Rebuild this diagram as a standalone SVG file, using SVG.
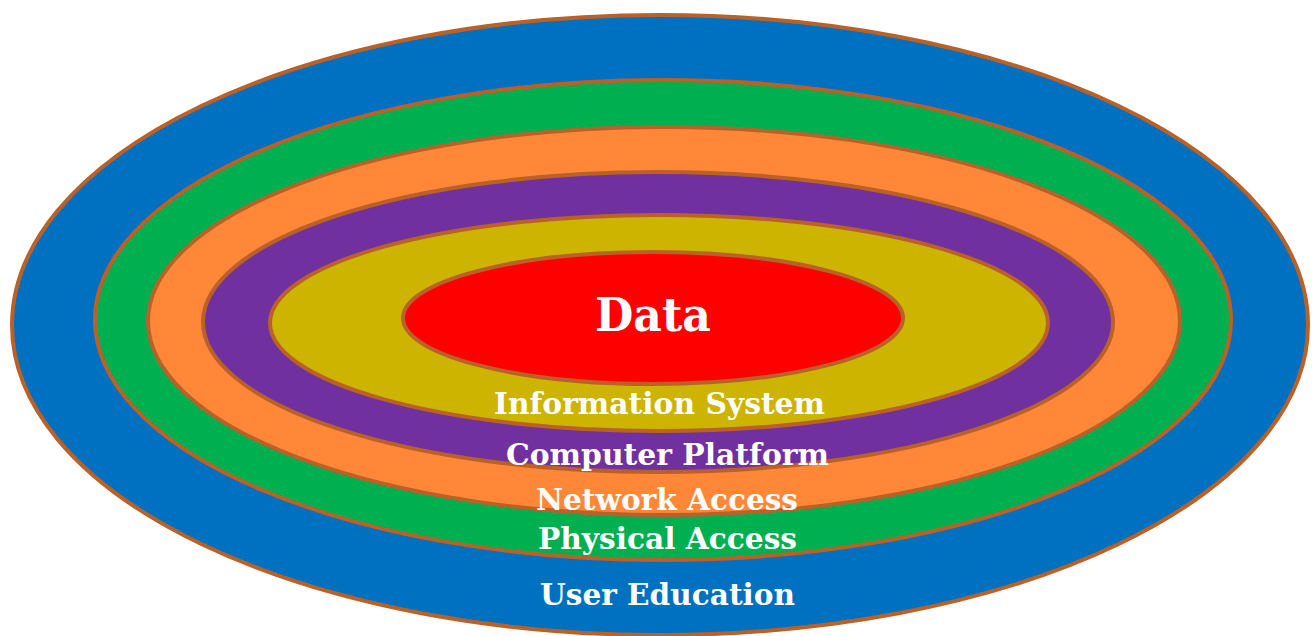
<svg xmlns="http://www.w3.org/2000/svg" width="1315" height="636" viewBox="0 0 1315 636">
<style>
.ring{stroke:#BA6128;stroke-width:4}
.lbl{font-family:"DejaVu Serif","Liberation Serif",serif;font-weight:bold;fill:#FFFFFF;text-anchor:middle}
</style>
<rect width="1315" height="636" fill="#FFFFFF"/>
<g id="user-education">
<ellipse class="ring" cx="660" cy="325" rx="648" ry="310" fill="#0070C0"/>
</g>
<g id="physical-access">
<ellipse class="ring" cx="663" cy="320" rx="568" ry="240" fill="#00B050"/>
</g>
<g id="network-access">
<ellipse class="ring" cx="664" cy="321" rx="516" ry="194" fill="#FF8737"/>
</g>
<g id="computer-platform">
<ellipse class="ring" cx="658" cy="322" rx="455" ry="150" fill="#7030A0"/>
</g>
<g id="information-system">
<ellipse class="ring" cx="659" cy="323" rx="389" ry="108" fill="#CCB400"/>
</g>
<g id="data">
<ellipse class="ring" cx="653" cy="318" rx="250" ry="66" fill="#FF0000"/>
<text class="lbl" x="653" y="331" font-size="46" textLength="116" lengthAdjust="spacingAndGlyphs">Data</text>
</g>
<g id="labels">
<text class="lbl" x="659.5" y="414" font-size="29" textLength="331" lengthAdjust="spacingAndGlyphs">Information System</text>
<text class="lbl" x="667.5" y="465" font-size="29" textLength="323" lengthAdjust="spacingAndGlyphs">Computer Platform</text>
<text class="lbl" x="667" y="510" font-size="29" textLength="262" lengthAdjust="spacingAndGlyphs">Network Access</text>
<text class="lbl" x="667.5" y="549" font-size="29" textLength="259" lengthAdjust="spacingAndGlyphs">Physical Access</text>
<text class="lbl" x="667.5" y="605" font-size="29" textLength="255" lengthAdjust="spacingAndGlyphs">User Education</text>
</g>
</svg>
